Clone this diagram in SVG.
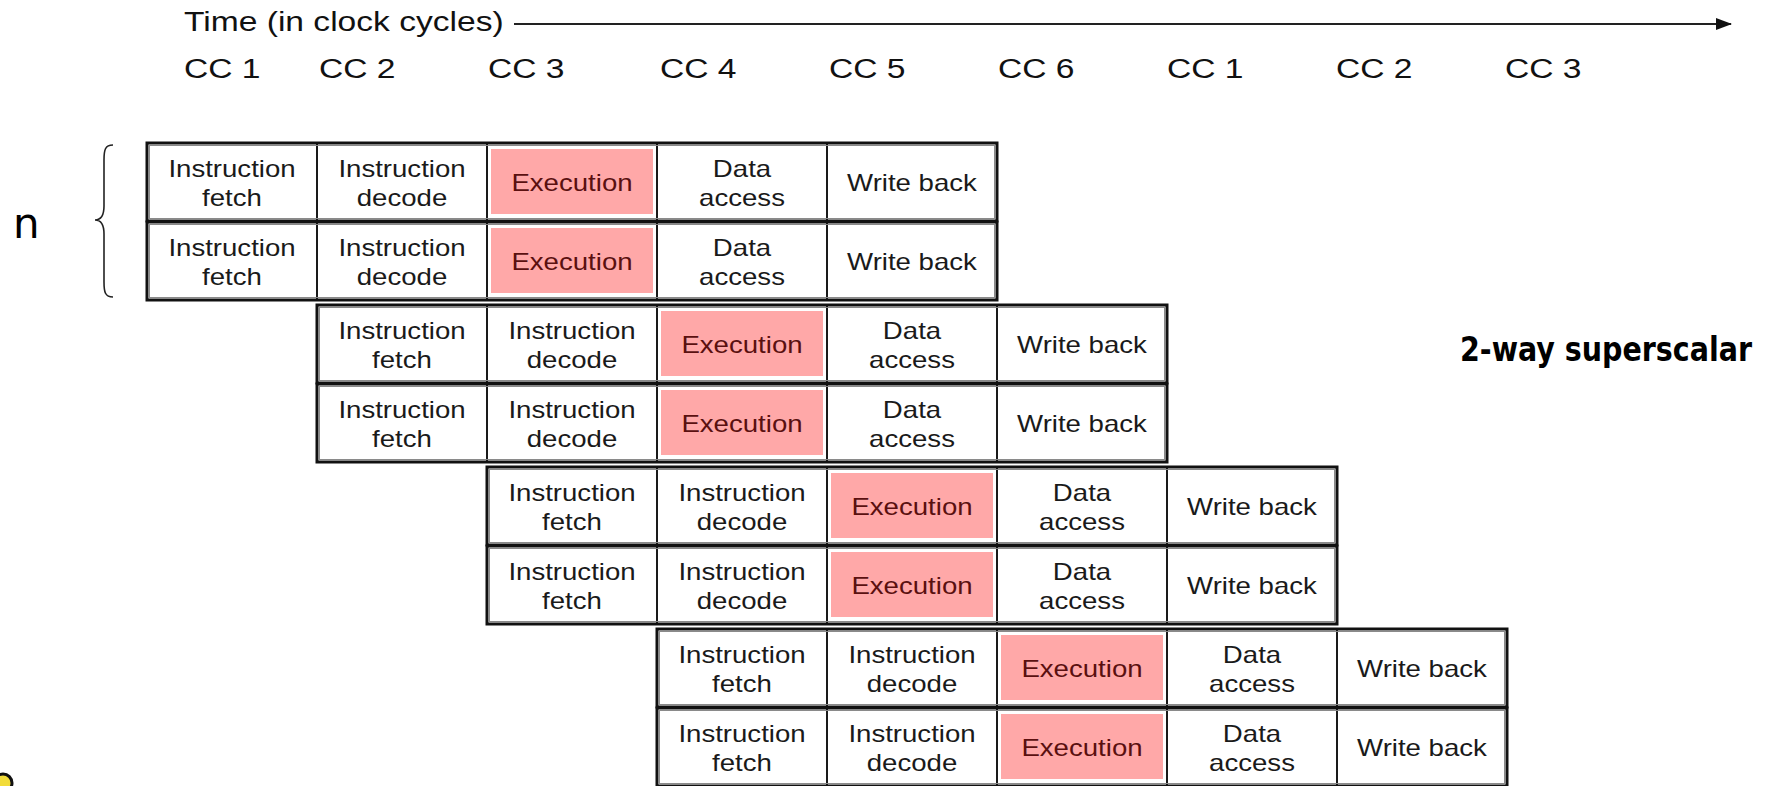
<svg xmlns="http://www.w3.org/2000/svg" width="1768" height="786" viewBox="0 0 1768 786">
  <style>
    .hdr { font-family: "Liberation Sans", Arial, sans-serif; font-size: 28px; fill: #111; }
    .cell { fill: #fff; stroke: #1a1a1a; stroke-width: 2; }
    .row { fill: none; stroke: #111; stroke-width: 3; }
    .shade { fill: none; stroke: #8a8a8a; stroke-width: 1; }
    .exe { fill: #ffa8a8; stroke: none; }
    .lbl { font-family: "Liberation Sans", Arial, sans-serif; font-size: 23px; fill: #1a1a1a; text-anchor: middle; }
    .lbl-exe { fill: #5a1010; }
    .title { font-family: "DejaVu Sans Condensed", "DejaVu Sans", Verdana, sans-serif; font-stretch: condensed; font-weight: bold; font-size: 33px; fill: #000; }
    .brace { fill: none; stroke: #222; stroke-width: 1.6; }
  </style>
  <defs>
    <marker id="arrowhead" markerWidth="16" markerHeight="12" refX="15" refY="6" orient="auto" markerUnits="userSpaceOnUse">
      <path d="M0,0 L16,6 L0,12 Z" fill="#111"/>
    </marker>
    <!-- one issue slot: five pipeline stages, 170px each -->
    <g id="slot">
      <rect class="cell" x="0" y="0" width="170" height="78"/>
      <rect class="cell" x="170" y="0" width="170" height="78"/>
      <rect class="cell" x="340" y="0" width="170" height="78"/>
      <rect class="exe" x="344" y="6" width="162" height="65"/>
      <rect class="cell" x="510" y="0" width="170" height="78"/>
      <rect class="cell" x="680" y="0" width="170" height="78"/>
      <rect class="shade" x="2.5" y="2.5" width="845" height="73"/>
      <rect class="row" x="0" y="0" width="850" height="78"/>
      <text class="lbl" transform="translate(85,34) scale(1.2,1)">Instruction</text>
      <text class="lbl" transform="translate(85,63) scale(1.2,1)">fetch</text>
      <text class="lbl" transform="translate(255,34) scale(1.2,1)">Instruction</text>
      <text class="lbl" transform="translate(255,63) scale(1.2,1)">decode</text>
      <text class="lbl lbl-exe" transform="translate(425,48) scale(1.2,1)">Execution</text>
      <text class="lbl" transform="translate(595,34) scale(1.2,1)">Data</text>
      <text class="lbl" transform="translate(595,63) scale(1.2,1)">access</text>
      <text class="lbl" transform="translate(765,48) scale(1.2,1)">Write back</text>
    </g>
  </defs>

  <!-- time axis -->
  <text class="hdr" transform="translate(184,31) scale(1.2,1)">Time (in clock cycles)</text>
  <g id="connectors">
    <line x1="514" y1="24" x2="1731" y2="24" stroke="#222" stroke-width="2" marker-end="url(#arrowhead)"/>
  </g>
  <g id="cycle-labels" class="hdr">
    <text transform="translate(184,78) scale(1.2,1)">CC 1</text>
    <text transform="translate(319,78) scale(1.2,1)">CC 2</text>
    <text transform="translate(488,78) scale(1.2,1)">CC 3</text>
    <text transform="translate(660,78) scale(1.2,1)">CC 4</text>
    <text transform="translate(829,78) scale(1.2,1)">CC 5</text>
    <text transform="translate(998,78) scale(1.2,1)">CC 6</text>
    <text transform="translate(1167,78) scale(1.2,1)">CC 1</text>
    <text transform="translate(1336,78) scale(1.2,1)">CC 2</text>
    <text transform="translate(1505,78) scale(1.2,1)">CC 3</text>
  </g>

  <!-- issue width brace -->
  <g id="issue-brace">
    <path class="brace" d="M113,145 C105,145 104,150 104,160 L104,206 C104,215 101,220 95,220 C101,220 104,225 104,234 L104,282 C104,292 105,297 113,297"/>
    <text x="13" y="238" font-family="'DejaVu Sans', Verdana, sans-serif" font-size="42" fill="#000">n</text>
  </g>

  <!-- instruction pairs, one per cycle -->
  <g id="pair-1">
    <use href="#slot" x="147" y="143"/>
    <use href="#slot" x="147" y="222"/>
  </g>
  <g id="pair-2">
    <use href="#slot" x="317" y="305"/>
    <use href="#slot" x="317" y="384"/>
  </g>
  <g id="pair-3">
    <use href="#slot" x="487" y="467"/>
    <use href="#slot" x="487" y="546"/>
  </g>
  <g id="pair-4">
    <use href="#slot" x="657" y="629"/>
    <use href="#slot" x="657" y="708"/>
  </g>

  <text id="title" class="title" x="1460" y="361" textLength="292" lengthAdjust="spacingAndGlyphs">2-way superscalar</text>

  <circle cx="3" cy="783" r="9" fill="#f2dc3a" stroke="#111" stroke-width="3"/>
</svg>
